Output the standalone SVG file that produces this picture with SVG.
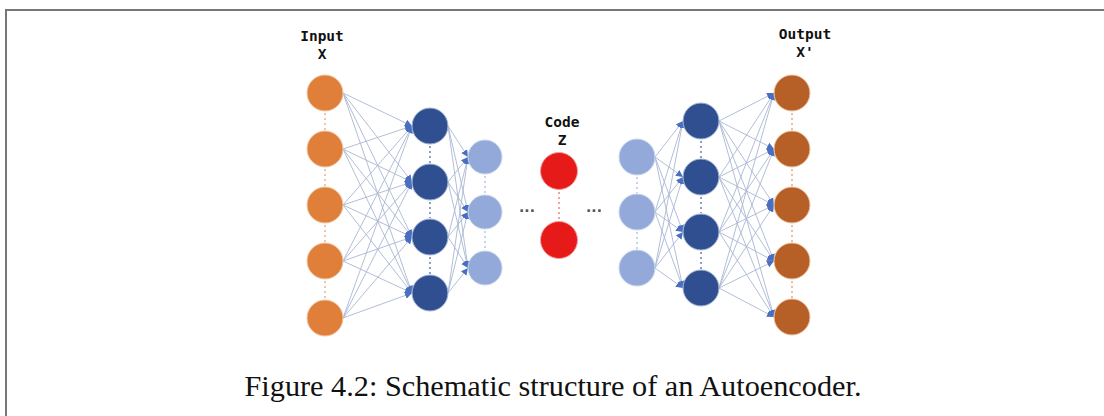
<svg xmlns="http://www.w3.org/2000/svg" width="1104" height="416" viewBox="0 0 1104 416">
<defs>
<marker id="ah" markerUnits="userSpaceOnUse" markerWidth="8" markerHeight="8" refX="7" refY="4" orient="auto">
<path d="M0,0.5 L7,4 L0,7.5 Z" fill="#4a6fc0"/>
</marker>
<style>
.lbl{font-family:"DejaVu Sans Mono",monospace;font-weight:bold;font-size:14.5px;fill:#111;text-anchor:middle}
.cap{font-family:"Liberation Serif",serif;font-size:29px;fill:#111;text-anchor:middle}
.ed line{stroke:#a9b7d2;stroke-width:0.9;marker-end:url(#ah)}
.inp{fill:#e07f3a;stroke:#f3c9a8;stroke-width:1}
.dk{fill:#2f4f91;stroke:#a9b9d8;stroke-width:1}
.lt{fill:#92a9d9;stroke:#cdd8ee;stroke-width:1}
.rd{fill:#e51a19;stroke:#f39a9a;stroke-width:1}
.out{fill:#b65f26;stroke:#efc8a6;stroke-width:1}
.dot{stroke-width:2;stroke-dasharray:2 3;fill:none}
.ell{font-family:"DejaVu Sans",sans-serif;font-weight:bold;font-size:14px;fill:#555;text-anchor:middle}
</style>
</defs>
<rect width="1104" height="416" fill="#fff"/>
<path d="M6,416 V10 H1104" fill="none" stroke="#777" stroke-width="2"/>

<g id="connectors" class="ed">
<line x1="343" y1="93" x2="412" y2="126"/><line x1="343" y1="93" x2="412" y2="182"/><line x1="343" y1="93" x2="412" y2="237"/><line x1="343" y1="93" x2="412" y2="293"/>
<line x1="343" y1="149" x2="412" y2="126"/><line x1="343" y1="149" x2="412" y2="182"/><line x1="343" y1="149" x2="412" y2="237"/><line x1="343" y1="149" x2="412" y2="293"/>
<line x1="343" y1="205" x2="412" y2="126"/><line x1="343" y1="205" x2="412" y2="182"/><line x1="343" y1="205" x2="412" y2="237"/><line x1="343" y1="205" x2="412" y2="293"/>
<line x1="343" y1="261" x2="412" y2="126"/><line x1="343" y1="261" x2="412" y2="182"/><line x1="343" y1="261" x2="412" y2="237"/><line x1="343" y1="261" x2="412" y2="293"/>
<line x1="343" y1="318" x2="412" y2="126"/><line x1="343" y1="318" x2="412" y2="182"/><line x1="343" y1="318" x2="412" y2="237"/><line x1="343" y1="318" x2="412" y2="293"/>

<line x1="448" y1="126" x2="468" y2="157"/><line x1="448" y1="126" x2="468" y2="212"/><line x1="448" y1="126" x2="468" y2="268"/>
<line x1="448" y1="182" x2="468" y2="157"/><line x1="448" y1="182" x2="468" y2="212"/><line x1="448" y1="182" x2="468" y2="268"/>
<line x1="448" y1="237" x2="468" y2="157"/><line x1="448" y1="237" x2="468" y2="212"/><line x1="448" y1="237" x2="468" y2="268"/>
<line x1="448" y1="293" x2="468" y2="157"/><line x1="448" y1="293" x2="468" y2="212"/><line x1="448" y1="293" x2="468" y2="268"/>

<line x1="655" y1="157" x2="683" y2="121"/><line x1="655" y1="157" x2="683" y2="177"/><line x1="655" y1="157" x2="683" y2="232"/><line x1="655" y1="157" x2="683" y2="288"/>
<line x1="655" y1="212" x2="683" y2="121"/><line x1="655" y1="212" x2="683" y2="177"/><line x1="655" y1="212" x2="683" y2="232"/><line x1="655" y1="212" x2="683" y2="288"/>
<line x1="655" y1="268" x2="683" y2="121"/><line x1="655" y1="268" x2="683" y2="177"/><line x1="655" y1="268" x2="683" y2="232"/><line x1="655" y1="268" x2="683" y2="288"/>

<line x1="719" y1="121" x2="774" y2="93"/><line x1="719" y1="121" x2="774" y2="149"/><line x1="719" y1="121" x2="774" y2="205"/><line x1="719" y1="121" x2="774" y2="261"/><line x1="719" y1="121" x2="774" y2="317"/>
<line x1="719" y1="177" x2="774" y2="93"/><line x1="719" y1="177" x2="774" y2="149"/><line x1="719" y1="177" x2="774" y2="205"/><line x1="719" y1="177" x2="774" y2="261"/><line x1="719" y1="177" x2="774" y2="317"/>
<line x1="719" y1="232" x2="774" y2="93"/><line x1="719" y1="232" x2="774" y2="149"/><line x1="719" y1="232" x2="774" y2="205"/><line x1="719" y1="232" x2="774" y2="261"/><line x1="719" y1="232" x2="774" y2="317"/>
<line x1="719" y1="288" x2="774" y2="93"/><line x1="719" y1="288" x2="774" y2="149"/><line x1="719" y1="288" x2="774" y2="205"/><line x1="719" y1="288" x2="774" y2="261"/><line x1="719" y1="288" x2="774" y2="317"/>
</g>

<g id="input">
<text class="lbl" x="322" y="41">Input</text>
<text class="lbl" x="322" y="59">X</text>
<path class="dot" stroke="#f0c4a4" d="M325,113 V130 M325,169 V186 M325,225 V242 M325,281 V299"/>
<circle class="inp" cx="325" cy="93" r="18"/>
<circle class="inp" cx="325" cy="149" r="18"/>
<circle class="inp" cx="325" cy="205" r="18"/>
<circle class="inp" cx="325" cy="261" r="18"/>
<circle class="inp" cx="325" cy="318" r="18"/>
</g>

<g id="encoder1">
<path class="dot" stroke="#8e9fc4" d="M430,146 V163 M430,202 V218 M430,257 V274"/>
<circle class="dk" cx="430" cy="126" r="18"/>
<circle class="dk" cx="430" cy="182" r="18"/>
<circle class="dk" cx="430" cy="237" r="18"/>
<circle class="dk" cx="430" cy="293" r="18"/>
</g>

<g id="encoder2">
<path class="dot" stroke="#c9d4ec" d="M485,176 V193 M485,231 V249"/>
<circle class="lt" cx="485" cy="157" r="17"/>
<circle class="lt" cx="485" cy="212" r="17"/>
<circle class="lt" cx="485" cy="268" r="17"/>
</g>

<g id="ellipsis-left"><text class="ell" x="527" y="212">...</text></g>

<g id="code">
<text class="lbl" x="562" y="127">Code</text>
<text class="lbl" x="562" y="145">Z</text>
<path class="dot" stroke="#f2a0a0" d="M559,192 V220"/>
<circle class="rd" cx="559" cy="171" r="18.5"/>
<circle class="rd" cx="559" cy="240" r="18.5"/>
</g>

<g id="ellipsis-right"><text class="ell" x="594" y="212">...</text></g>

<g id="decoder1">
<path class="dot" stroke="#c9d4ec" d="M637,177 V193 M637,232 V249"/>
<circle class="lt" cx="637" cy="157" r="18"/>
<circle class="lt" cx="637" cy="212" r="18"/>
<circle class="lt" cx="637" cy="268" r="18"/>
</g>

<g id="decoder2">
<path class="dot" stroke="#8e9fc4" d="M701,141 V158 M701,197 V213 M701,252 V269"/>
<circle class="dk" cx="701" cy="121" r="18"/>
<circle class="dk" cx="701" cy="177" r="18"/>
<circle class="dk" cx="701" cy="232" r="18"/>
<circle class="dk" cx="701" cy="288" r="18"/>
</g>

<g id="output">
<text class="lbl" x="805" y="39">Output</text>
<text class="lbl" x="805" y="57">X'</text>
<path class="dot" stroke="#eac0a0" d="M792,113 V130 M792,169 V186 M792,225 V242 M792,281 V298"/>
<circle class="out" cx="792" cy="93" r="18"/>
<circle class="out" cx="792" cy="149" r="18"/>
<circle class="out" cx="792" cy="205" r="18"/>
<circle class="out" cx="792" cy="261" r="18"/>
<circle class="out" cx="792" cy="317" r="18"/>
</g>

<text class="cap" x="553" y="396" textLength="617" lengthAdjust="spacingAndGlyphs">Figure 4.2: Schematic structure of an Autoencoder.</text>
</svg>
